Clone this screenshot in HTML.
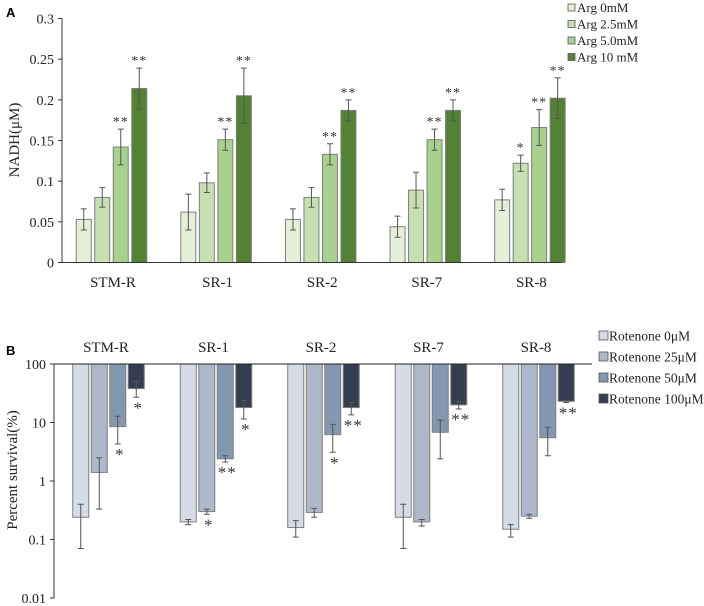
<!DOCTYPE html>
<html><head><meta charset="utf-8"><style>
body{margin:0;background:#fff;}
svg{display:block;font-family:"Liberation Serif",serif;}
.pl{font-family:"Liberation Sans",sans-serif;font-weight:bold;font-size:13px;}
</style></head><body>
<svg id="c" width="704" height="606" viewBox="0 0 704 606"></svg>
<script>
const categories=["STM-R","SR-1","SR-2","SR-7","SR-8"];
const argLabels=["Arg 0mM","Arg 2.5mM","Arg 5.0mM","Arg 10 mM"];
const nadh=[[0.053,0.080,0.142,0.214],[0.062,0.098,0.151,0.205],[0.053,0.080,0.133,0.187],[0.044,0.089,0.151,0.187],[0.077,0.122,0.166,0.202]];
const nadhErr=[[0.013,0.012,0.022,0.025],[0.022,0.012,0.013,0.034],[0.013,0.012,0.013,0.013],[0.013,0.022,0.013,0.013],[0.013,0.010,0.022,0.025]];
const nadhStars=[["","","**","**"],["","","**","**"],["","","**","**"],["","","**","**"],["","*","**","**"]];
const aTicks=["0","0.05","0.1","0.15","0.2","0.25","0.3"];
const rotLabels=["Rotenone 0μM","Rotenone 25μM","Rotenone 50μM","Rotenone 100μM"];
const surv=[[0.24,1.4,8.5,38],[0.2,0.3,2.4,18],[0.16,0.29,6.2,18],[0.24,0.2,6.8,20],[0.15,0.25,5.5,23]];
const survLo=[[0.07,0.33,4.3,27],[0.18,0.27,2.1,11.5],[0.11,0.24,3.1,13.5],[0.07,0.17,2.4,17],[0.11,0.23,2.7,22]];
const survHi=[[0.4,2.5,12.8,50],[0.22,0.33,2.7,24],[0.21,0.34,9.3,22],[0.4,0.22,11,23],[0.18,0.27,8.3,24]];
const survStars=[["","","*","*"],["","*","**","*"],["","","*","**"],["","","","**"],["","","","**"]];
const bTicks=["0.01","0.1","1","10","100"];
const bTickVals=[0.01,0.1,1,10,100];

const svg=document.getElementById('c');const NS="http://www.w3.org/2000/svg";
function mk(t,a,txt){const e=document.createElementNS(NS,t);for(const k in a)e.setAttribute(k,a[k]);if(txt!==undefined)e.textContent=txt;svg.appendChild(e);return e;}
const aCol=["#e3efd6","#c6e0b2","#a9d18e","#548235"];
const bCol=["#d6dce5","#adb9ca","#8497b0","#333f50"];
// Panel A
const ay=v=>262.5-v/0.3*244;
const ax0=62,ax1=562,agrp0=113,agap=104.6,bw=15,bstep=18.5;
let t=mk('text',{x:6,y:17,class:'pl'},'A');
let l=mk('line',{x1:ax0,y1:ay(0.3),x2:ax0,y2:ay(0),stroke:'#333','stroke-width':1});
aTicks.forEach((s,i)=>{const v=parseFloat(s);const y=ay(v);
 let tk=mk('line',{x1:ax0-4,y1:y,x2:ax0,y2:y,stroke:'#333'});
 let tl=mk('text',{x:ax0-8,y:y+5,'text-anchor':'end','font-size':14,fill:'#222'},s);});
t=mk('text',{x:0,y:0,transform:'translate(19,140) rotate(-90)','text-anchor':'middle','font-size':15,fill:'#222'},'NADH(μM)');
categories.forEach((c,g)=>{const cx=agrp0+g*agap;
 let cl=mk('text',{x:cx,y:287,'text-anchor':'middle','font-size':15,fill:'#222'},c);
 nadh[g].forEach((v,i)=>{const x=cx-2*bstep+i*bstep+(bstep-bw)/2-1.5;
  let r=mk('rect',{x:x,y:ay(v),width:bw,height:ay(0)-ay(v),fill:aCol[i],stroke:'#7f7f7f','stroke-width':1});
  const mx=x+bw/2,e=nadhErr[g][i];
  let eb=mk('path',{d:`M${mx},${ay(v+e)}V${ay(v-e)}M${mx-3},${ay(v+e)}h6M${mx-3},${ay(v-e)}h6`,stroke:'#555',fill:'none'});
  if(nadhStars[g][i]){let st=mk('text',{x:mx,y:ay(v+e)-3,'text-anchor':'middle','font-size':14,fill:'#333','letter-spacing':1},nadhStars[g][i]);}
 });});
l=mk('line',{x1:ax0,y1:ay(0),x2:ax1,y2:ay(0),stroke:'#333'});
argLabels.forEach((s,i)=>{const y=7.5+i*16.5;
 let r=mk('rect',{x:568,y:y-3.5,width:7,height:7,fill:aCol[i],stroke:'#555','stroke-width':0.8});
 let tx=mk('text',{x:577,y:y+4.5,'font-size':13,fill:'#222'},s);});
// Panel B
const by=v=>364+(2-Math.log10(v))*58.5;
const bx0=54,bx1=592,bgrp0=110,bgap=107.5,bw2=16;
t=mk('text',{x:6,y:355,class:'pl'},'B');
l=mk('line',{x1:bx0,y1:by(100),x2:bx0,y2:by(0.01),stroke:'#333'});
bTicks.forEach((s,i)=>{const y=by(bTickVals[i]);
 let tk=mk('line',{x1:bx0-4,y1:y,x2:bx0,y2:y,stroke:'#333'});
 let tl=mk('text',{x:bx0-8,y:y+5,'text-anchor':'end','font-size':14,fill:'#222'},s);});
t=mk('text',{x:0,y:0,transform:'translate(17,470) rotate(-90)','text-anchor':'middle','font-size':15,fill:'#222'},'Percent survival(%)');
categories.forEach((c,g)=>{const cx=bgrp0+g*bgap;
 let cl=mk('text',{x:cx-4,y:352,'text-anchor':'middle','font-size':15,fill:'#222'},c);
 surv[g].forEach((v,i)=>{const x=cx-2*bstep+i*bstep+(bstep-bw2)/2-1.5;
  let r=mk('rect',{x:x,y:by(100),width:bw2,height:by(v)-by(100),fill:bCol[i],stroke:'#7f7f7f','stroke-width':1});
  const mx=x+bw2/2,lo=by(survLo[g][i]),hi=by(survHi[g][i]);
  let eb=mk('path',{d:`M${mx},${hi}V${lo}M${mx-3},${hi}h6M${mx-3},${lo}h6`,stroke:'#555',fill:'none'});
  if(survStars[g][i]){let st=mk('text',{x:mx+2,y:lo+16,'text-anchor':'middle','font-size':17,fill:'#333','letter-spacing':1},survStars[g][i]);}
 });});
l=mk('line',{x1:bx0,y1:by(100),x2:bx1,y2:by(100),stroke:'#222'});
rotLabels.forEach((s,i)=>{const y=335.5+i*21;
 let r=mk('rect',{x:599,y:y-4.5,width:9,height:9,fill:bCol[i],stroke:'#555','stroke-width':0.8});
 let tx=mk('text',{x:609,y:y+5,'font-size':13.5,fill:'#222'},s);});
</script>
</body></html>
